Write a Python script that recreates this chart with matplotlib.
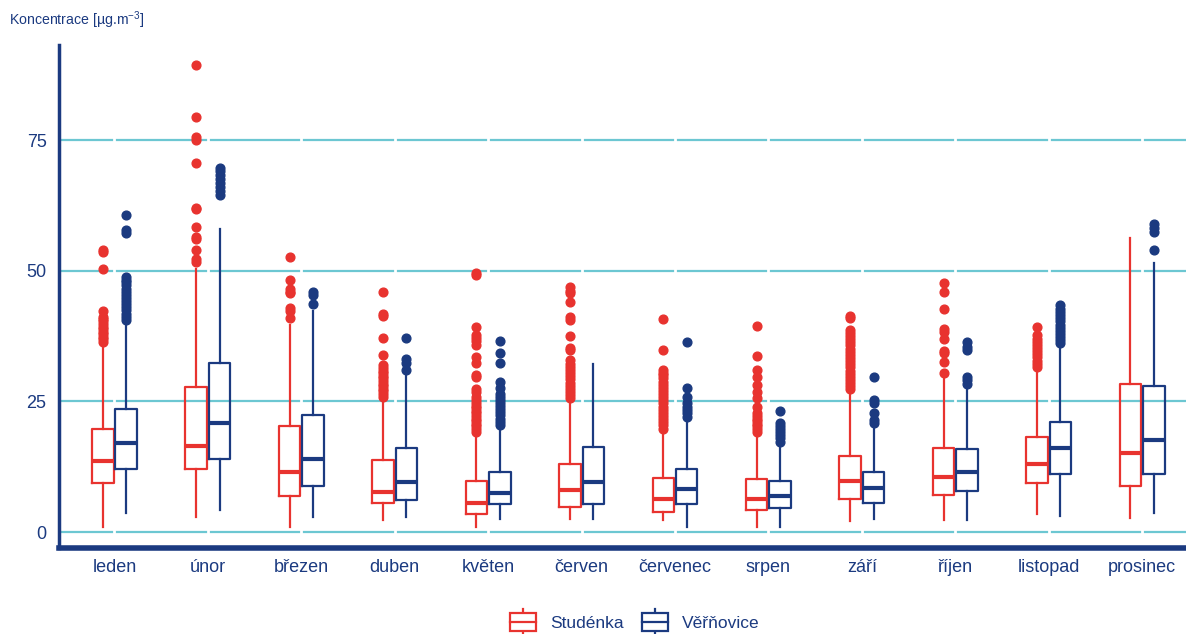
import numpy as np
import matplotlib
matplotlib.use("Agg")
import matplotlib.pyplot as plt
from matplotlib.patches import Rectangle, Patch
from matplotlib.lines import Line2D
from matplotlib.legend_handler import HandlerBase

plt.rcParams['font.family'] = ['Liberation Sans', 'DejaVu Sans']
plt.rcParams['mathtext.fontset'] = 'custom'
plt.rcParams['mathtext.rm'] = 'Liberation Sans'
plt.rcParams['mathtext.it'] = 'Liberation Sans'

months = ['leden', 'únor', 'březen', 'duben', 'květen', 'červen',
          'červenec', 'srpen', 'září', 'říjen', 'listopad', 'prosinec']

# Studénka
stu_lo = [1.0, 2.9, 1.0, 2.3, 1.0, 2.4, 2.3, 1.0, 2.2, 2.3, 3.4, 2.6]
stu_q1 = [9.3, 12.0, 6.9, 5.5, 3.4, 4.8, 3.9, 4.2, 6.3, 7.1, 9.4, 8.8]
stu_med = [13.6, 16.5, 11.4, 7.7, 5.6, 8.0, 6.4, 6.4, 9.8, 10.5, 13.1, 15.1]
stu_q3 = [19.8, 27.8, 20.2, 13.8, 9.8, 13.1, 10.3, 10.2, 14.6, 16.0, 18.2, 28.3]
stu_hi = [35.8, 50.4, 39.6, 25.6, 18.6, 24.9, 19.4, 19.1, 26.7, 29.7, 31.0, 56.2]
stu_out = [
    [36.4, 36.9, 37.3, 37.8, 38.3, 38.8, 39.3, 39.8, 40.3, 40.8, 41.2, 42.3, 50.3, 53.6, 54.0],
    [51.7, 52.3, 53.9, 56.0, 56.5, 58.4, 61.8, 62.0, 70.7, 75.0, 75.6, 79.5, 89.3],
    [40.9, 42.3, 42.8, 45.7, 46.0, 46.6, 48.3, 52.7],
    [25.9, 26.4, 26.9, 27.4, 27.9, 28.4, 28.9, 29.4, 29.9, 30.4, 30.9, 31.4, 31.9,
     33.9, 37.1, 41.3, 41.7, 46.0],
    [19.2, 19.7, 20.2, 20.7, 21.2, 21.7, 22.2, 22.7, 23.2, 23.7, 24.2, 24.7, 25.2, 25.9,
     26.8, 27.4, 29.6, 30.0, 32.3, 33.5, 35.8, 36.5, 37.2, 37.7, 39.3, 49.2, 49.6],
    [25.6, 26.2, 26.8, 27.4, 28.0, 28.6, 29.2, 29.8, 30.4, 31.0, 31.6, 32.2, 32.9,
     34.8, 35.3, 37.5, 40.6, 41.1, 44.1, 45.7, 46.2, 46.9],
    [19.8, 20.4, 21.0, 21.6, 22.2, 22.8, 23.4, 24.0, 24.6, 25.2, 25.8, 26.4, 27.0,
     27.6, 28.2, 28.8, 29.4, 30.0, 30.5, 31.0, 34.8, 40.7],
    [19.2, 19.7, 20.2, 20.7, 21.2, 21.7, 22.2, 22.7, 24.0, 25.6, 26.8, 28.1, 29.6,
     31.0, 33.7, 39.5],
    [27.3, 27.9, 28.5, 29.1, 29.7, 30.3, 30.9, 31.5, 32.1, 32.7, 33.3, 33.9, 34.5,
     35.1, 35.7, 36.3, 36.9, 37.5, 38.1, 38.6, 40.9, 41.3],
    [30.5, 32.5, 34.2, 34.7, 36.9, 38.3, 38.9, 42.7, 46.0, 47.7],
    [31.6, 32.2, 32.8, 33.4, 34.0, 34.6, 35.2, 35.8, 36.4, 37.0, 37.7, 39.3],
    [],
]

# Věřňovice
ver_lo = [3.6, 4.2, 2.9, 2.9, 2.4, 2.4, 1.0, 1.0, 2.5, 2.3, 3.1, 3.6]
ver_q1 = [12.1, 13.9, 8.8, 6.1, 5.3, 5.4, 5.3, 4.5, 5.5, 7.9, 11.1, 11.1]
ver_med = [17.0, 20.8, 14.0, 9.5, 7.4, 9.6, 8.3, 6.9, 8.4, 11.4, 16.1, 17.7]
ver_q3 = [23.5, 32.4, 22.3, 16.0, 11.5, 16.2, 12.1, 9.8, 11.4, 15.8, 21.0, 28.0]
ver_hi = [39.9, 58.0, 42.3, 30.4, 20.1, 32.1, 21.8, 16.8, 19.8, 27.8, 35.5, 51.4]
ver_out = [
    [40.6, 41.2, 41.8, 42.4, 43.0, 43.6, 44.2, 44.8, 45.4, 46.0, 46.6, 47.2, 47.8,
     48.3, 48.8, 57.3, 57.8, 60.6],
    [64.5, 65.2, 66.0, 66.8, 67.5, 68.3, 69.0, 69.6],
    [43.6, 45.3, 46.0],
    [31.0, 32.3, 33.2, 37.2],
    [20.5, 21.1, 21.7, 22.3, 22.9, 23.5, 24.1, 24.7, 25.3, 25.9, 26.5, 27.5, 28.8,
     32.3, 34.2, 36.6],
    [],
    [22.1, 22.7, 23.4, 24.0, 24.6, 25.9, 27.6, 36.4],
    [17.3, 17.9, 18.5, 19.1, 19.7, 20.3, 20.8, 23.2],
    [20.8, 21.5, 22.7, 24.6, 25.3, 29.7],
    [28.4, 29.1, 29.7, 34.8, 35.5, 36.4],
    [36.1, 36.7, 37.3, 37.9, 38.5, 39.1, 39.7, 40.3, 40.9, 41.5, 42.1, 42.7, 43.4],
    [54.0, 57.5, 58.1, 58.9],
]

red = '#E8332F'
navy = '#1B3A80'
grid_c = '#6CC7D2'


def make_stats(lo, q1, med, q3, hi, out):
    return [dict(whislo=lo[i], q1=q1[i], med=med[i], q3=q3[i], whishi=hi[i],
                 fliers=out[i]) for i in range(len(lo))]


fig = plt.figure(figsize=(11.86, 6.34), dpi=100)
ax = fig.add_axes([59 / 1186, 1 - 548 / 634, 1 - 59 / 1186, (548 - 45) / 634])

x = np.arange(len(months))
off = 0.125
w = 0.23

for stats, pos, col in [(make_stats(stu_lo, stu_q1, stu_med, stu_q3, stu_hi, stu_out), x - off, red),
                        (make_stats(ver_lo, ver_q1, ver_med, ver_q3, ver_hi, ver_out), x + off, navy)]:
    ax.bxp(stats, positions=pos, widths=w, showcaps=False, manage_ticks=False,
           boxprops=dict(color=col, linewidth=1.6),
           whiskerprops=dict(color=col, linewidth=1.6),
           medianprops=dict(color=col, linewidth=3),
           flierprops=dict(marker='o', markerfacecolor=col, markeredgecolor=col,
                           markersize=6.3, linestyle='none'),
           zorder=3)

ax.set_xlim(-0.594, 11.47)
ax.set_ylim(-3.06, 93.2)
ax.set_yticks([0, 25, 50, 75])
ax.set_xticks(x)
ax.set_xticklabels(months)
ax.yaxis.grid(True, color=grid_c, linewidth=1.6, zorder=0)
ax.set_axisbelow(True)
# small breaks in the grid at each category centre
ax.vlines(x, -3.06, 93.2, colors='white', linewidth=2, zorder=1)

for s in ['top', 'right']:
    ax.spines[s].set_visible(False)
ax.spines['left'].set_color(navy)
ax.spines['left'].set_linewidth(2.5)
ax.spines['bottom'].set_color(navy)
ax.spines['bottom'].set_linewidth(4)
ax.tick_params(length=0, labelsize=13, labelcolor=navy)
ax.tick_params(axis='y', pad=9)
ax.tick_params(axis='x', pad=8)

fig.text(9 / 1186, 1 - 20 / 634, r'Koncentrace [µg.m$^{-3}$]', fontsize=10.2,
         color=navy, va='center', ha='left')


class BoxHandler(HandlerBase):
    def create_artists(self, legend, orig_handle, xdescent, ydescent, width,
                       height, fontsize, trans):
        col = orig_handle.get_edgecolor()
        cx = width / 2 - xdescent
        bw = width * 0.95
        bh = height * 1.45
        by = height / 2 - ydescent - bh / 2
        rect = Rectangle((cx - bw / 2, by), bw, bh, facecolor='white',
                         edgecolor=col, linewidth=1.6, transform=trans)
        med = Line2D([cx - bw / 2, cx + bw / 2], [by + bh / 2] * 2, color=col,
                     linewidth=1.6, transform=trans)
        up = Line2D([cx, cx], [by + bh, by + bh + height * 0.35], color=col,
                    linewidth=1.6, transform=trans)
        dn = Line2D([cx, cx], [by, by - height * 0.35], color=col,
                    linewidth=1.6, transform=trans)
        return [up, dn, rect, med]


handles = [Patch(facecolor='white', edgecolor=red), Patch(facecolor='white', edgecolor=navy)]
leg = fig.legend(handles, ['Studénka', 'Věřňovice'], loc='center',
                 bbox_to_anchor=(0.535, 0.017), ncol=2, frameon=False,
                 fontsize=12.5, handler_map={Patch: BoxHandler()},
                 handlelength=1.6, handletextpad=0.75, columnspacing=1.0)
for t in leg.get_texts():
    t.set_color(navy)

fig.savefig('out.png', dpi=100)
